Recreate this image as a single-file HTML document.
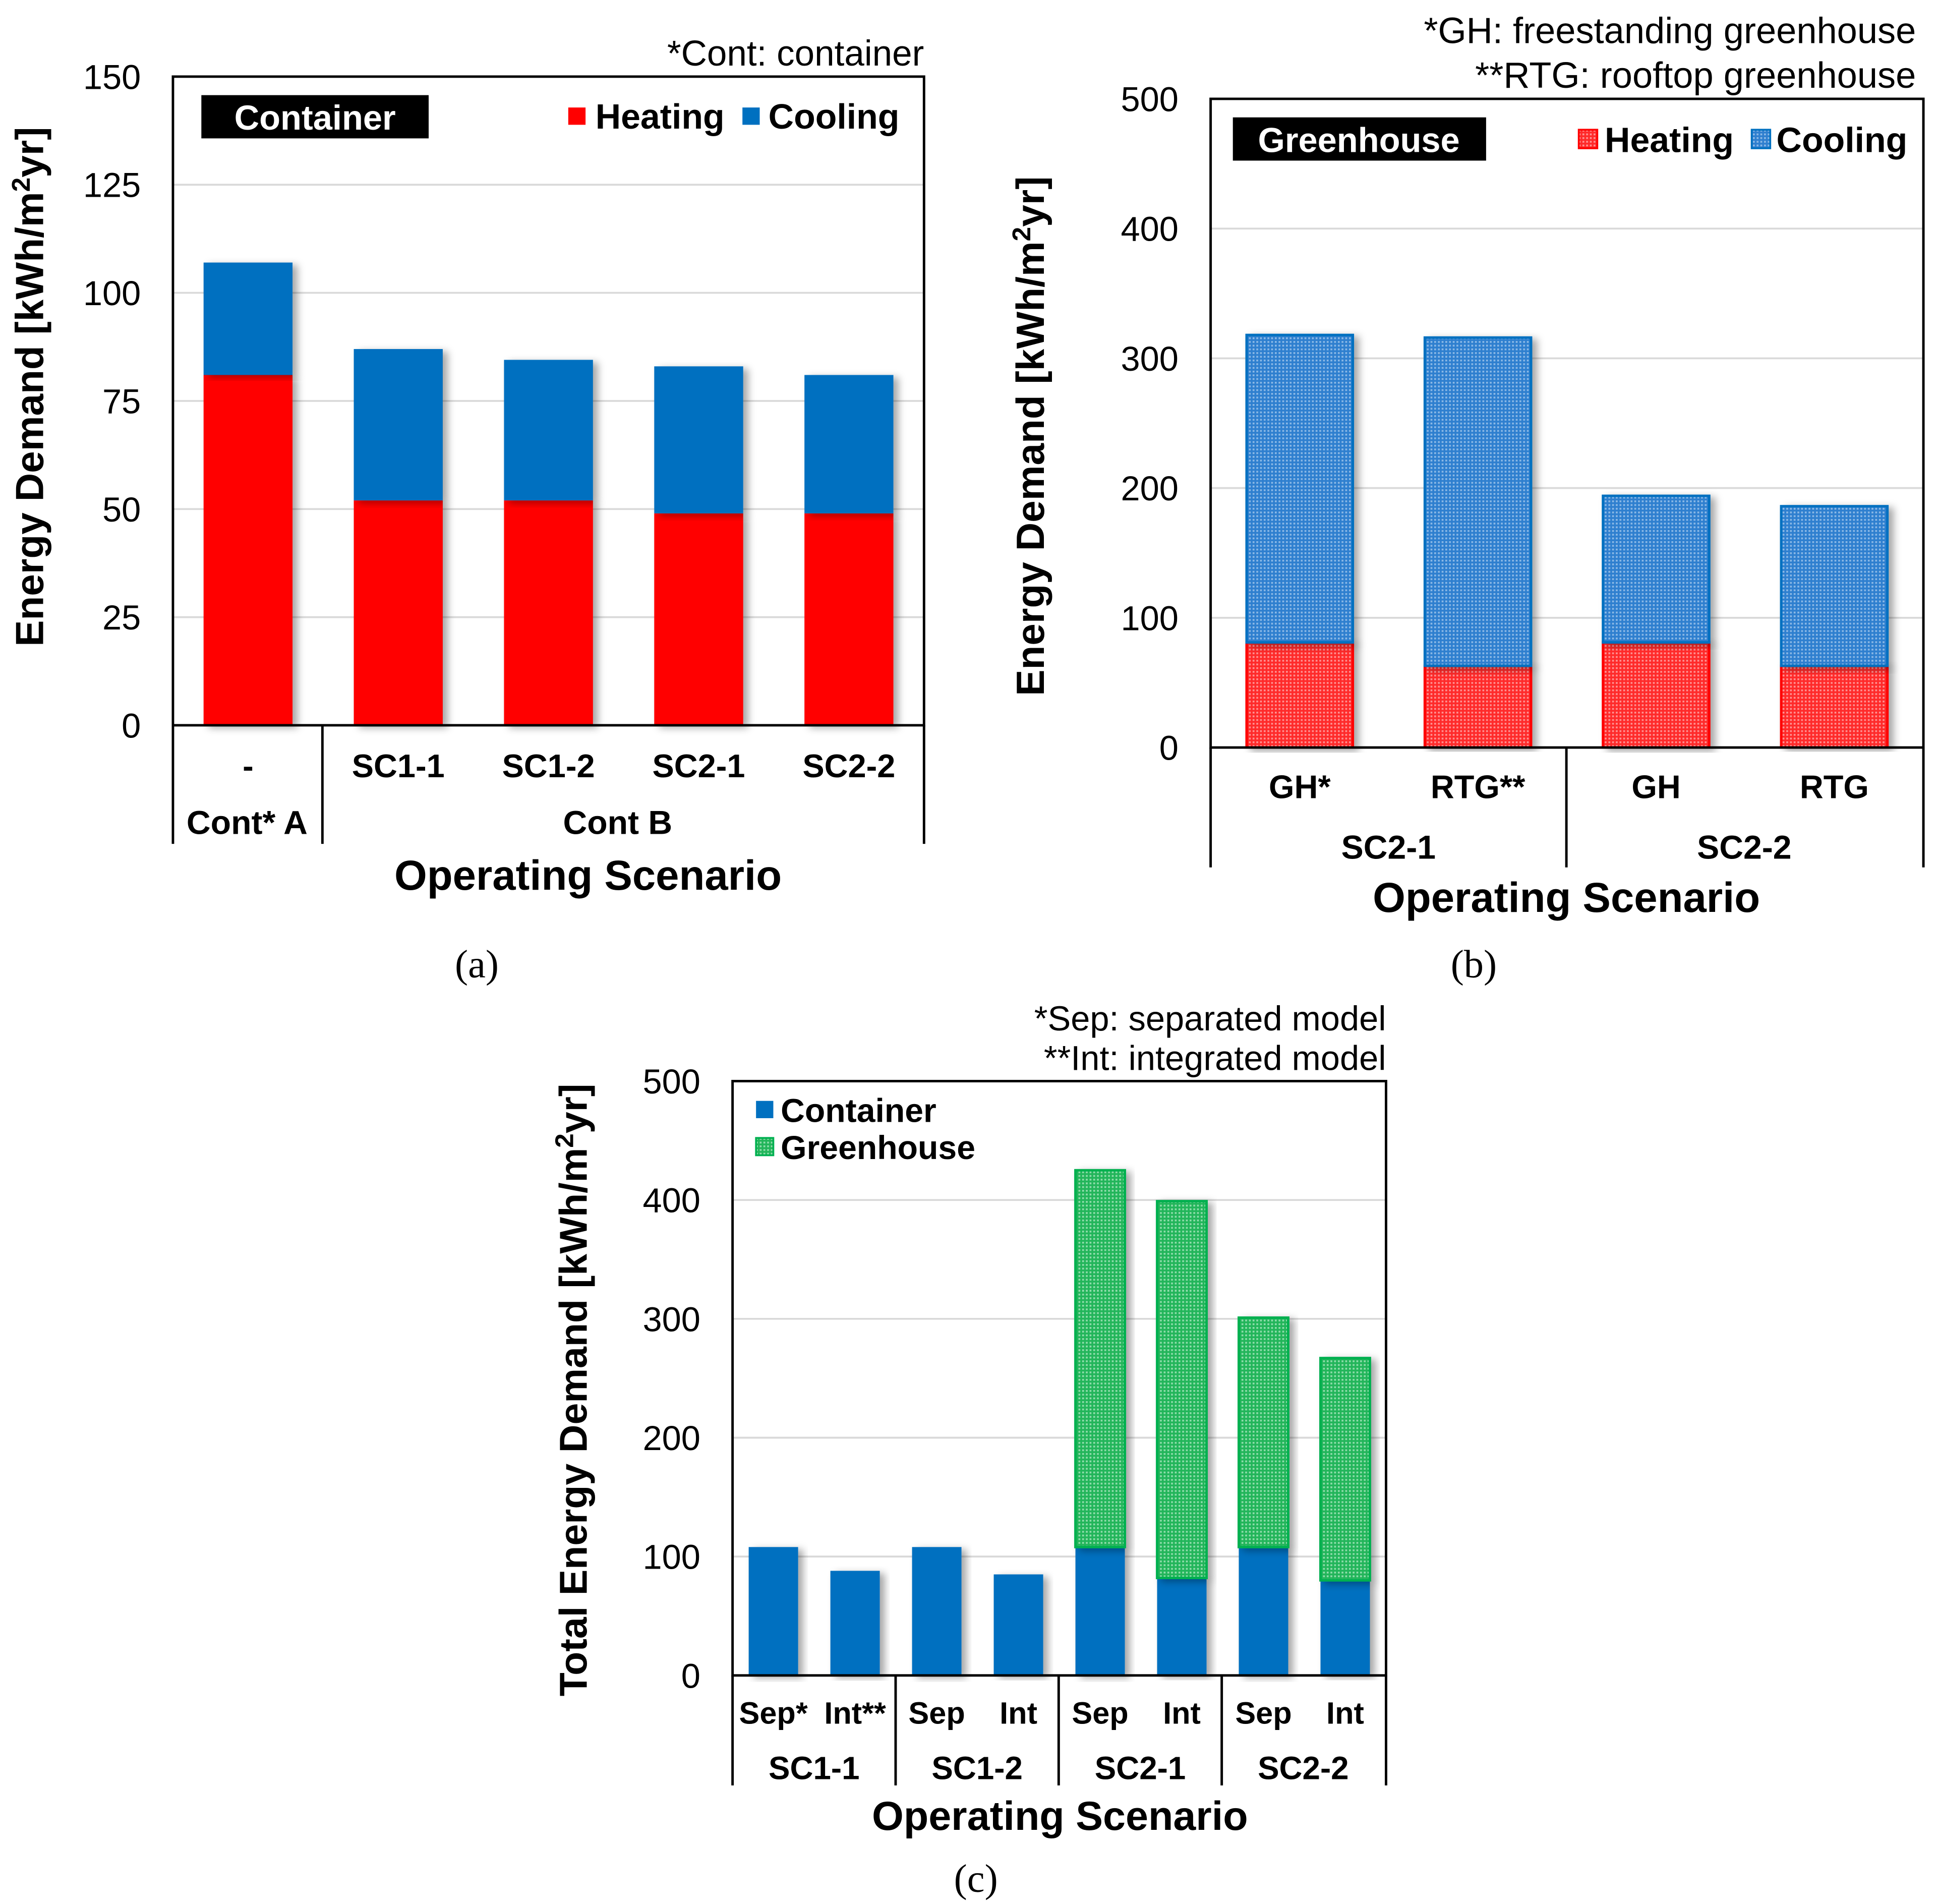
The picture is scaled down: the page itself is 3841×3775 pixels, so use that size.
<!DOCTYPE html>
<html><head><meta charset="utf-8"><style>
html,body{margin:0;padding:0;background:#fff}
svg{display:block}
text{font-family:"Liberation Sans",Arial,sans-serif}
.t{font-size:28px}
.b{font-weight:bold}
.c{font-size:26.5px}
.cs{font-size:25px}
.serif{font-family:"Liberation Serif",serif}
</style></head><body>
<svg id="s" width="3841" height="3775" viewBox="0 0 1568 1541" preserveAspectRatio="none" xmlns="http://www.w3.org/2000/svg">
<defs>
<filter id="sh" x="-20%" y="-5%" width="140%" height="110%"><feDropShadow dx="4" dy="2" stdDeviation="3" flood-color="#000" flood-opacity="0.35"/></filter>
<pattern id="pr" width="3" height="3" patternUnits="userSpaceOnUse"><rect width="3" height="3" fill="#ff2a2a"/><rect width="1.5" height="1.5" fill="#ff9090"/></pattern>
<pattern id="pb" width="3" height="3" patternUnits="userSpaceOnUse"><rect width="3" height="3" fill="#2f7fcf"/><rect width="1.5" height="1.5" fill="#8ab8e6"/></pattern>
<pattern id="pg" width="3" height="3" patternUnits="userSpaceOnUse"><rect width="3" height="3" fill="#22b55a"/><rect width="1.5" height="1.5" fill="#8edcaa"/></pattern>
</defs>
<g id="ga"></g>
<g id="gb"></g>
<g id="gc"></g>
</svg>
<script>
// Chart (a)
const aCats = ["-", "SC1-1", "SC1-2", "SC2-1", "SC2-2"];
const aHeating = [81, 52, 52, 49, 49];
const aCooling = [26, 35, 32.5, 34, 32];
const aTicks = [0, 25, 50, 75, 100, 125, 150];
// Chart (b)
const bCats = ["GH*", "RTG**", "GH", "RTG"];
const bHeating = [81, 63, 81, 63];
const bCooling = [237, 253, 113, 123];
const bTicks = [0, 100, 200, 300, 400, 500];
// Chart (c)
const cCats = ["Sep*", "Int**", "Sep", "Int", "Sep", "Int", "Sep", "Int"];
const cContainer = [108, 88, 108, 85, 108, 82, 108, 80];
const cGreenhouse = [0, 0, 0, 0, 317, 317, 193, 187];
const cTicks = [0, 100, 200, 300, 400, 500];

const NS = "http://www.w3.org/2000/svg";
function mk(parent, tag, attrs, txt) {
  const e = document.createElementNS(NS, tag);
  for (const k in attrs) e.setAttribute(k, attrs[k]);
  if (txt !== undefined) e.textContent = txt;
  parent.appendChild(e);
  return e;
}

function chart(g, o) {
  const y = v => o.y0 - (v - 0) / o.max * (o.y0 - o.y1);
  o.ticks.forEach(t => {
    if (t > 0 && t < o.max) {
      const l = mk(g, "line", {x1: o.x0, x2: o.x1, y1: y(t), y2: y(t), stroke: "#d9d9d9", "stroke-width": 1.5});
      
      
    }
    const tx = mk(g, "text", {x: o.x0 - 26, y: y(t) + 10, "text-anchor": "end", class: "t"}, t);
    
    
  });
  const n = o.cats.length, cw = (o.x1 - o.x0) / n;
  o.cats.forEach((c, i) => {
    const cx = o.x0 + cw * (i + 0.5);
    let base = 0;
    o.series.forEach(s => {
      const v = s.vals[i];
      if (v > 0) {
        const r = mk(g, "rect", {x: cx - o.bw / 2, y: y(base + v), width: o.bw, height: y(base) - y(base + v), fill: s.fill, filter: "url(#sh)"});
        if (s.stroke) { r.setAttribute("stroke", s.stroke); r.setAttribute("stroke-width", 2); }
        
        
      }
      base += v;
    });
    const lb = mk(g, "text", {x: cx, y: o.catY, "text-anchor": "middle", class: o.catCls + " b"}, c);
    
    
  });
  const f = mk(g, "rect", {x: o.x0, y: o.y1, width: o.x1 - o.x0, height: o.y0 - o.y1, fill: "none", stroke: "#000", "stroke-width": 2});
  
  
  o.groups.forEach(gr => {
    const l = mk(g, "line", {x1: gr, x2: gr, y1: o.y0, y2: o.gy, stroke: "#000", "stroke-width": 2});
    
    
  });
}

const ga = document.getElementById("ga");
chart(ga, {x0: 140, x1: 748, y0: 587, y1: 62, max: 150, ticks: aTicks, cats: aCats, bw: 72, catY: 629, gy: 683, catCls: "c",
  groups: [140, 261, 748],
  series: [{name: "heating", vals: aHeating, fill: "#ff0000"}, {name: "cooling", vals: aCooling, fill: "#0070c0"}]});
const gb = document.getElementById("gb");
chart(gb, {x0: 980, x1: 1557, y0: 605, y1: 80, max: 500, ticks: bTicks, cats: bCats, bw: 86, catY: 646, gy: 702, catCls: "c",
  groups: [980, 1268, 1557],
  series: [{name: "heating", vals: bHeating, fill: "url(#pr)", stroke: "#ff0000"}, {name: "cooling", vals: bCooling, fill: "url(#pb)", stroke: "#0070c0"}]});
const gc = document.getElementById("gc");
chart(gc, {x0: 593, x1: 1122, y0: 1356, y1: 875, max: 500, ticks: cTicks, cats: cCats, bw: 40, catY: 1395, gy: 1445, catCls: "cs",
  groups: [593, 725, 857, 989, 1122],
  series: [{name: "container", vals: cContainer, fill: "#0070c0"}, {name: "greenhouse", vals: cGreenhouse, fill: "url(#pg)", stroke: "#00b050"}]});
</script>
<svg width="3841" height="3775" viewBox="0 0 1568 1541" preserveAspectRatio="none" xmlns="http://www.w3.org/2000/svg" style="position:absolute;left:0;top:0">
<!-- chart a -->
<text x="748" y="53" text-anchor="end" font-size="29">*Cont: container</text>
<rect x="163" y="77" width="184" height="35" fill="#000"/>
<text x="255" y="105" text-anchor="middle" font-size="28" font-weight="bold" style="fill:#fff">Container</text>
<rect x="460" y="87" width="14" height="14" fill="#ff0000"/>
<text x="482" y="104" font-size="28.5" font-weight="bold">Heating</text>
<rect x="601" y="87" width="14" height="14" fill="#0070c0"/>
<text x="622" y="104" font-size="28.5" font-weight="bold">Cooling</text>
<text x="200" y="675" text-anchor="middle" font-size="27" font-weight="bold">Cont* A</text>
<text x="500" y="675" text-anchor="middle" font-size="27" font-weight="bold">Cont B</text>
<text x="476" y="720" text-anchor="middle" font-size="34" font-weight="bold">Operating Scenario</text>
<text transform="translate(35,313) rotate(-90)" text-anchor="middle" font-size="32" font-weight="bold">Energy Demand [kWh/m<tspan font-size="21" dy="-11">2</tspan><tspan dy="11">yr]</tspan></text>
<text x="386" y="791" text-anchor="middle" font-size="32" class="serif">(a)</text>
<!-- chart b -->
<text x="1551" y="35" text-anchor="end" font-size="29.5">*GH: freestanding greenhouse</text>
<text x="1551" y="71" text-anchor="end" font-size="29.5">**RTG: rooftop greenhouse</text>
<rect x="998" y="95" width="205" height="35" fill="#000"/>
<text x="1100" y="123" text-anchor="middle" font-size="28" font-weight="bold" style="fill:#fff">Greenhouse</text>
<rect x="1278" y="105" width="15" height="15" fill="url(#pr)" stroke="#ff0000" stroke-width="1.5"/>
<text x="1299" y="123" font-size="28.5" font-weight="bold">Heating</text>
<rect x="1418" y="105" width="15" height="15" fill="url(#pb)" stroke="#0070c0" stroke-width="1.5"/>
<text x="1438" y="123" font-size="28.5" font-weight="bold">Cooling</text>
<text x="1124" y="695" text-anchor="middle" font-size="27" font-weight="bold">SC2-1</text>
<text x="1412" y="695" text-anchor="middle" font-size="27" font-weight="bold">SC2-2</text>
<text x="1268" y="738" text-anchor="middle" font-size="34" font-weight="bold">Operating Scenario</text>
<text transform="translate(845,353) rotate(-90)" text-anchor="middle" font-size="32" font-weight="bold">Energy Demand [kWh/m<tspan font-size="21" dy="-11">2</tspan><tspan dy="11">yr]</tspan></text>
<text x="1193" y="791" text-anchor="middle" font-size="32" class="serif">(b)</text>
<!-- chart c -->
<text x="1122" y="834" text-anchor="end" font-size="28">*Sep: separated model</text>
<text x="1122" y="866" text-anchor="end" font-size="28">**Int: integrated model</text>
<rect x="612" y="891" width="14" height="14" fill="#0070c0"/>
<text x="632" y="908" font-size="27" font-weight="bold">Container</text>
<rect x="612" y="921" width="14" height="14" fill="url(#pg)" stroke="#00b050" stroke-width="1.5"/>
<text x="632" y="938" font-size="27" font-weight="bold">Greenhouse</text>
<text x="659" y="1440" text-anchor="middle" font-size="26" font-weight="bold">SC1-1</text>
<text x="791" y="1440" text-anchor="middle" font-size="26" font-weight="bold">SC1-2</text>
<text x="923" y="1440" text-anchor="middle" font-size="26" font-weight="bold">SC2-1</text>
<text x="1055" y="1440" text-anchor="middle" font-size="26" font-weight="bold">SC2-2</text>
<text x="858" y="1481" text-anchor="middle" font-size="33" font-weight="bold">Operating Scenario</text>
<text transform="translate(475,1125) rotate(-90)" text-anchor="middle" font-size="31.5" font-weight="bold">Total Energy Demand [kWh/m<tspan font-size="21" dy="-11">2</tspan><tspan dy="11">yr]</tspan></text>
<text x="790" y="1531" text-anchor="middle" font-size="32" class="serif">(c)</text>
</svg>
</body></html>
